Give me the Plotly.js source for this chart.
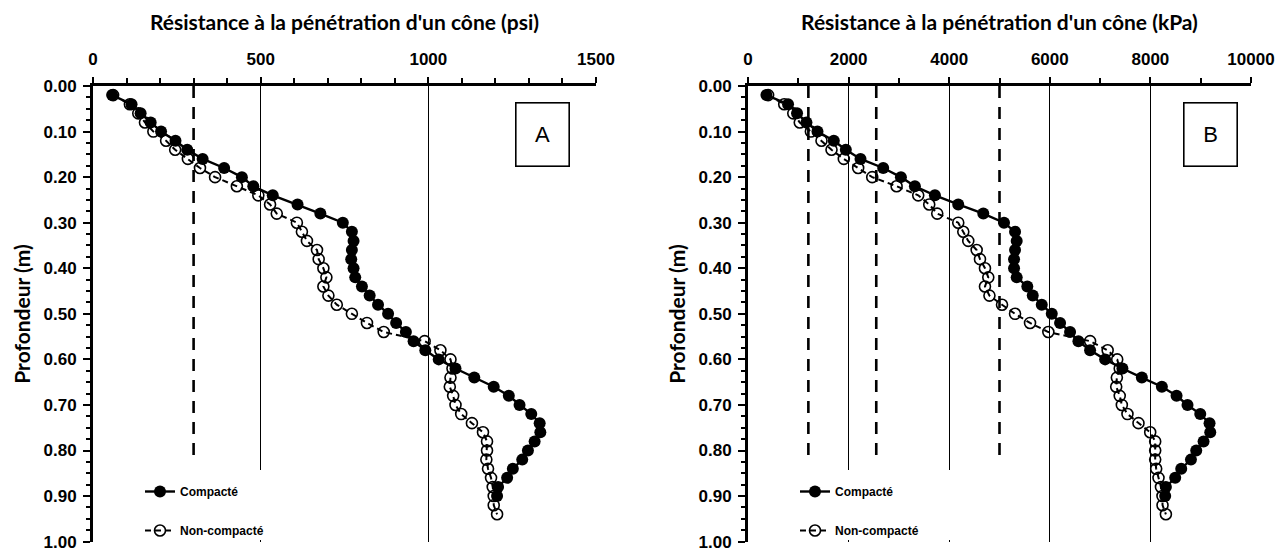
<!DOCTYPE html>
<html>
<head>
<meta charset="utf-8">
<script src="https://cdn.plot.ly/plotly-3.0.1.min.js"></script>
<style>
  html, body { margin: 0; padding: 0; background: #fff; }
  #chart { width: 1281px; height: 554px; }
</style>
</head>
<body>
<div id="chart"></div>
<script>
// ---- Data ----
const depthCompact = [0.02,0.04,0.06,0.08,0.10,0.12,0.14,0.16,0.18,0.20,0.22,0.24,0.26,0.28,0.30,0.32,0.34,0.36,0.38,0.40,0.42,0.44,0.46,0.48,0.50,0.52,0.54,0.56,0.58,0.60,0.62,0.64,0.66,0.68,0.70,0.72,0.74,0.76,0.78,0.80,0.82,0.84,0.86,0.88,0.90];
const depthNonCompact = [0.02,0.04,0.06,0.08,0.10,0.12,0.14,0.16,0.18,0.20,0.22,0.24,0.26,0.28,0.30,0.32,0.34,0.36,0.38,0.40,0.42,0.44,0.46,0.48,0.50,0.52,0.54,0.56,0.58,0.60,0.62,0.64,0.66,0.68,0.70,0.72,0.74,0.76,0.78,0.80,0.82,0.84,0.86,0.88,0.90,0.92,0.94];

// Panel A (psi)
const psiCompact = [57,115,142,172,203,246,281,327,391,444,478,536,610,678,745,772,777,772,770,777,782,802,825,850,880,904,933,956,991,1031,1081,1137,1195,1240,1272,1307,1332,1334,1317,1297,1280,1252,1235,1208,1205];
const psiNonCompact = [60,110,135,155,180,218,245,283,319,364,429,493,528,548,608,623,638,668,673,687,696,687,702,727,772,817,867,989,1036,1066,1072,1066,1064,1074,1081,1098,1130,1163,1175,1175,1173,1178,1187,1192,1195,1195,1205];

// Panel B (kPa)
const kpaCompact = [366,796,975,1162,1381,1706,1945,2237,2688,3040,3318,3716,4180,4678,5090,5309,5342,5309,5289,5289,5342,5553,5661,5840,6039,6204,6403,6569,6801,7100,7444,7830,8228,8520,8738,8991,9176,9190,9057,8911,8806,8613,8493,8308,8294];
const kpaNonCompact = [400,720,900,1029,1250,1461,1660,1905,2190,2470,2954,3384,3603,3762,4180,4280,4379,4546,4612,4711,4777,4711,4800,5050,5309,5607,5971,6801,7150,7340,7390,7333,7320,7390,7432,7544,7763,7996,8095,8095,8095,8115,8161,8210,8240,8241,8308];

// Threshold (dashed) reference lines
const psiRefLines = [300];
const kpaRefLines = [1200, 2550, 5000];
const refLineDepths = [0, 0.815];

const seriesNames = ['Compacté', 'Non-compacté'];
const xTitles = ["Résistance à la pénétration d'un cône (psi)", "Résistance à la pénétration d'un cône (kPa)"];
const yTitle = 'Profondeur (m)';
const panelLabels = ['A', 'B'];

// ---- Layout helpers ----
const W = 1281, H = 554;
const px = v => v / W;
const py = v => 1 - v / H;

const TICK_FONT = {family: 'Liberation Sans, Arial, sans-serif', size: 17, color: '#000', weight: 'bold'};
const TITLE_FONT = {family: 'Lato, Liberation Sans, sans-serif', size: 21, color: '#000', weight: 'bold'};
const LEG_FONT = {family: 'Liberation Sans, Arial, sans-serif', size: 12, color: '#000', weight: 'bold'};

const traces = [];
function addPanel(xa, ya, legendId, refVals, xCompact, xNon) {
  refVals.forEach(v => {
    traces.push({
      x: refLineDepths.map(() => v), y: refLineDepths,
      xaxis: xa, yaxis: ya, mode: 'lines', showlegend: false, hoverinfo: 'skip',
      line: {color: '#000', width: 2.6, dash: '12px,9px'}
    });
  });
  traces.push({
    x: xNon, y: depthNonCompact, xaxis: xa, yaxis: ya, name: seriesNames[1],
    legend: legendId, legendgroup: 'n', legendrank: 2,
    mode: 'lines+markers',
    line: {color: '#000', width: 2, dash: '6px,4px'},
    marker: {symbol: 'circle-open', size: 11, color: '#000', line: {color: '#000', width: 1.6}}
  });
  traces.push({
    x: xCompact, y: depthCompact, xaxis: xa, yaxis: ya, name: seriesNames[0],
    legend: legendId, legendgroup: 'c', legendrank: 1,
    mode: 'lines+markers',
    line: {color: '#000', width: 2.4},
    marker: {symbol: 'circle', size: 12, color: '#000'}
  });
}
addPanel('x', 'y', 'legend', psiRefLines, psiCompact, psiNonCompact);
addPanel('x2', 'y2', 'legend2', kpaRefLines, kpaCompact, kpaNonCompact);

function xAxis(domain, range, dtick, minor, title, anchor) {
  return {
    domain: domain, range: range, side: 'top', anchor: anchor,
    tick0: 0, dtick: dtick, tickformat: 'd', ticks: 'outside', ticklen: 6, tickwidth: 2, tickcolor: '#000',
    minor: {dtick: minor, ticks: 'outside', ticklen: 5, tickwidth: 2, tickcolor: '#000', showgrid: false},
    showline: true, linewidth: 3, linecolor: '#000',
    showgrid: true, gridcolor: '#000', gridwidth: 1, zeroline: false,
    tickfont: TICK_FONT, ticklabelstandoff: 5, ticklabeloverflow: 'allow',
    title: {text: title, font: TITLE_FONT, standoff: 14},
    automargin: false, fixedrange: true
  };
}
function yAxis(domain, anchor) {
  return {
    domain: domain, range: [1.0008, 0], anchor: anchor,
    tick0: 0, dtick: 0.1, tickformat: '.2f', ticks: 'outside', ticklen: 7, tickwidth: 2, tickcolor: '#000',
    minor: {dtick: 0.025, ticks: 'outside', ticklen: 4, tickwidth: 2, tickcolor: '#000', showgrid: false},
    showline: true, linewidth: 3, linecolor: '#000',
    showgrid: false, zeroline: false,
    tickfont: TICK_FONT, ticklabelstandoff: 3, ticklabeloverflow: 'allow',
    title: {text: yTitle, font: TITLE_FONT, standoff: 8},
    automargin: false, fixedrange: true
  };
}

const yDom = [py(542), py(86)];
const layout = {
  width: W, height: H,
  margin: {l: 0, r: 0, t: 0, b: 0},
  paper_bgcolor: '#fff', plot_bgcolor: 'rgba(0,0,0,0)',
  showlegend: true,
  xaxis: xAxis([px(93), px(596)], [0, 1500], 500, 100, xTitles[0], 'y'),
  yaxis: yAxis(yDom, 'x'),
  xaxis2: xAxis([px(748), px(1251)], [0, 10000], 2000, 1000, xTitles[1], 'y2'),
  yaxis2: yAxis(yDom, 'x2'),
  legend: {x: px(140), y: py(477), xanchor: 'left', yanchor: 'top', bgcolor: 'rgba(0,0,0,0)',
           font: LEG_FONT, traceorder: 'grouped', tracegroupgap: 20, itemwidth: 30},
  legend2: {x: px(795), y: py(477), xanchor: 'left', yanchor: 'top', bgcolor: 'rgba(0,0,0,0)',
            font: LEG_FONT, traceorder: 'grouped', tracegroupgap: 20, itemwidth: 30},
  shapes: [
    {type: 'rect', xref: 'paper', yref: 'paper', x0: px(97), x1: px(272), y0: py(540), y1: py(470),
     fillcolor: '#fff', line: {width: 0}, layer: 'above'},
    {type: 'rect', xref: 'paper', yref: 'paper', x0: px(752), x1: px(956), y0: py(540), y1: py(470),
     fillcolor: '#fff', line: {width: 0}, layer: 'above'}
  ],
  annotations: [
    {xref: 'paper', yref: 'paper', x: px(542.5), y: py(134.5), xanchor: 'center', yanchor: 'middle',
     text: panelLabels[0], showarrow: false, width: 50, height: 60, borderwidth: 1.6, bordercolor: '#000',
     borderpad: 1, bgcolor: '#fff', font: {family: 'Liberation Sans, Arial, sans-serif', size: 22, color: '#000'}},
    {xref: 'paper', yref: 'paper', x: px(1210), y: py(134.5), xanchor: 'center', yanchor: 'middle',
     text: panelLabels[1], showarrow: false, width: 50, height: 60, borderwidth: 1.6, bordercolor: '#000',
     borderpad: 1, bgcolor: '#fff', font: {family: 'Liberation Sans, Arial, sans-serif', size: 22, color: '#000'}}
  ]
};

Plotly.newPlot('chart', traces, layout, {displayModeBar: false, staticPlot: true});
</script>
</body>
</html>
